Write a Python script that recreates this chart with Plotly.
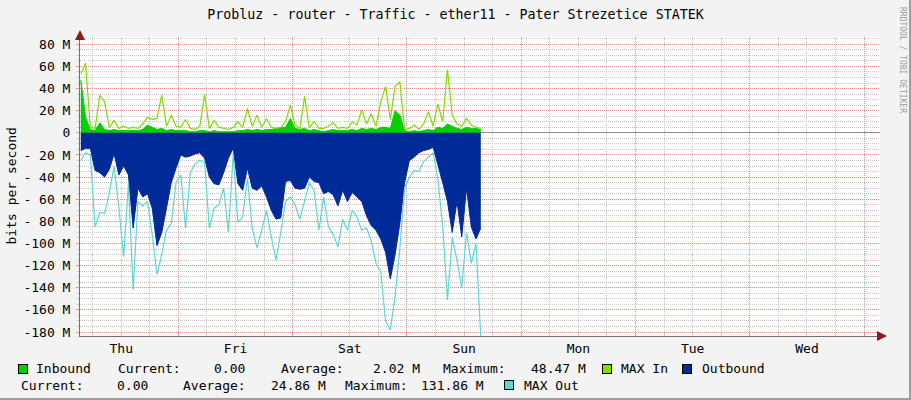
import plotly.graph_objects as go
import pandas as pd

# hourly samples, Thu 03:30 -> Sun 15:30 (values in Mbit/s)
times = pd.date_range("2024-01-04 03:30", periods=85, freq="h")

inbound = [48, 14, 3, 2, 9, 3, 2, 3, 2, 2,
           2, 2, 2, 3, 7, 5, 3, 4, 2, 3,
           2, 2, 2, 1, 1, 2, 2, 1, 2, 1,
           1, 1, 1, 2, 2, 3, 2, 3, 2, 3,
           3, 4, 5, 5, 13, 4, 3, 4, 2, 3,
           2, 1, 2, 3, 2, 2, 2, 3, 2, 4,
           3, 4, 3, 5, 5, 4, 20, 16, 2, 1,
           2, 1, 2, 3, 2, 5, 4, 8, 6, 4,
           3, 5, 4, 4, 3]

max_in = [53, 63, 5, 4, 34, 28, 5, 11, 4, 6,
          4, 5, 4, 8, 14, 12, 13, 34, 6, 16,
          6, 5, 12, 4, 3, 6, 35, 4, 11, 5,
          4, 3, 5, 10, 5, 22, 6, 16, 5, 13,
          5, 4, 5, 10, 25, 7, 4, 33, 5, 10,
          4, 4, 6, 9, 4, 5, 4, 10, 7, 21,
          8, 17, 6, 28, 42, 12, 42, 46, 3, 4,
          7, 3, 8, 19, 6, 26, 10, 57, 16, 8,
          6, 13, 7, 5, 4]

outbound = [-16, -14, -14, -34, -36, -40, -33, -19, -38, -30,
            -38, -86, -50, -58, -55, -68, -102, -90, -68, -45,
            -32, -20, -22, -21, -19, -18, -23, -40, -46, -47,
            -36, -23, -14, -46, -52, -32, -50, -52, -48, -58,
            -70, -78, -77, -44, -43, -50, -51, -50, -40, -44,
            -45, -55, -53, -56, -66, -52, -62, -54, -58, -62,
            -75, -84, -88, -96, -108, -132, -110, -82, -45, -25,
            -22, -18, -16, -15, -13, -28, -45, -62, -90, -62,
            -94, -50, -85, -96, -86]

max_out = [-25, -18, -20, -85, -72, -73, -54, -30, -68, -112,
           -46, -142, -62, -66, -62, -92, -128, -110, -88, -82,
           -45, -38, -86, -36, -28, -25, -27, -86, -68, -65,
           -50, -90, -20, -81, -76, -41, -86, -104, -88, -70,
           -94, -115, -90, -62, -58, -65, -78, -62, -45, -52,
           -88, -58, -85, -92, -103, -78, -88, -70, -76, -88,
           -86, -98, -118, -126, -170, -178, -148, -105, -50, -40,
           -34, -35, -26, -22, -18, -42, -85, -151, -95, -115,
           -140, -90, -118, -100, -185]

y_ticks = [80, 60, 40, 20, 0, -20, -40, -60, -80, -100, -120, -140, -160, -180]
y_labels = ["80 M", "60 M", "40 M", "20 M", "0", "- 20 M", "- 40 M", "- 60 M",
            "- 80 M", "-100 M", "-120 M", "-140 M", "-160 M", "-180 M"]

MONO = "DejaVu Sans Mono"
C_IN, C_MAXIN, C_OUT, C_MAXOUT = "#00CF00", "#80DD00", "#002A97", "#5FD5D5"
MGRID, GRID = "#E89393", "#C7C7C7"


def px_x(px):
    return (px - 80) / 800


def px_y(py):
    return (336 - py) / 299


fig = go.Figure()
fig.add_trace(go.Scatter(x=times, y=inbound, mode="lines", fill="tozeroy", fillcolor=C_IN,
                         line=dict(color=C_IN, width=1)))
fig.add_trace(go.Scatter(x=times, y=max_in, mode="lines",
                         line=dict(color=C_MAXIN, width=1.2)))
fig.add_trace(go.Scatter(x=times, y=outbound, mode="lines", fill="tozeroy", fillcolor=C_OUT,
                         line=dict(color=C_OUT, width=1)))
fig.add_trace(go.Scatter(x=times, y=max_out, mode="lines",
                         line=dict(color=C_MAXOUT, width=1.2)))

fig.update_layout(
    width=911, height=400,
    margin=dict(l=80, r=31, t=37, b=64),
    paper_bgcolor="#F3F3F3", plot_bgcolor="#FFFFFF",
    showlegend=False, hovermode=False,
    font=dict(family=MONO, size=13, color="#000000"),
    title=dict(text="Probluz - router - Traffic - ether11 - Pater Strezetice STATEK",
               x=0.5, xref="container", xanchor="center",
               y=1 - 14 / 400, yref="container", yanchor="middle",
               font=dict(family=MONO, size=13.3, color="#000000")),
)

fig.update_xaxes(
    type="date", range=["2024-01-04 03:20", "2024-01-11 03:20"],
    tick0="2024-01-04", dtick=86400000, tickformat="%a", ticklabelmode="period",
    showgrid=True, gridcolor=MGRID, griddash="1px,1px", gridwidth=1,
    ticks="inside", ticklen=3, tickcolor=MGRID,
    minor=dict(dtick=6 * 3600000, showgrid=True, gridcolor=GRID, griddash="1px,1px",
               ticks="inside", ticklen=2, tickcolor=GRID),
    showline=True, linecolor="#707070", linewidth=1, zeroline=False,
    tickfont=dict(family=MONO, size=13, color="#000000"),
)

fig.update_yaxes(
    range=[-183.6, 86.6], tickmode="array", tickvals=y_ticks, ticktext=y_labels,
    showgrid=True, gridcolor=MGRID, griddash="1px,1px", gridwidth=1,
    ticks="outside", ticklen=3, tickcolor=MGRID, ticklabelstandoff=3,
    minor=dict(tick0=0, dtick=5, showgrid=True, gridcolor=GRID, griddash="1px,1px",
               ticks="outside", ticklen=2, tickcolor=GRID),
    showline=True, linecolor="#707070", linewidth=1,
    zeroline=True, zerolinecolor="#909090", zerolinewidth=1,
    tickfont=dict(family=MONO, size=13, color="#000000"),
)

ann = []
# axis title
ann.append(dict(text="bits per second", x=px_x(11), y=0.5, xref="paper", yref="paper",
                xanchor="center", yanchor="middle",
                textangle=-90, showarrow=False, font=dict(family=MONO, size=13)))
# credit
ann.append(dict(text="RRDTOOL / TOBI OETIKER", x=px_x(902), y=px_y(60), xref="paper", yref="paper",
                xanchor="center", yanchor="middle",
                textangle=90, showarrow=False, font=dict(family=MONO, size=8, color="#A0A0A0")))
# axis arrows
ann.append(dict(text="", x=0, y=px_y(30), xref="paper", yref="paper", showarrow=True,
                ax=0, ay=7, arrowhead=2, arrowsize=2, arrowwidth=1, arrowcolor="#8B1A1A", standoff=0))
ann.append(dict(text="", x=px_x(887), y=0, xref="paper", yref="paper", showarrow=True,
                ax=-7, ay=0, arrowhead=2, arrowsize=2, arrowwidth=1, arrowcolor="#8B1A1A", standoff=0))

# legend
row1, row2 = 368.5, 385
legend_text = [
    ("Inbound", 33.7, row1), ("Current:", 116, row1), ("0.00", 212, row1),
    ("Average:", 279, row1), ("2.02 M", 371, row1), ("Maximum:", 441, row1),
    ("48.47 M", 529, row1), ("MAX In", 619, row1), ("Outbound", 700, row1),
    ("Current:", 18.6, row2), ("0.00", 114.5, row2), ("Average:", 181, row2),
    ("24.86 M", 268.6, row2), ("Maximum:", 343, row2), ("131.86 M", 418.6, row2),
    ("MAX Out", 521.5, row2),
]
for txt, px, py in legend_text:
    ann.append(dict(text=txt, x=px_x(px), y=px_y(py), xref="paper", yref="paper",
                    xanchor="left", yanchor="middle", showarrow=False,
                    font=dict(family=MONO, size=13, color="#000000")))

swatches = [(C_IN, 22.5, row1), (C_MAXIN, 607, row1), (C_OUT, 686.5, row1), (C_MAXOUT, 508.5, row2)]
for col, px, py in swatches:
    ann.append(dict(text=" ", x=px_x(px), y=px_y(py), xref="paper", yref="paper",
                    xanchor="center", yanchor="middle", showarrow=False,
                    width=8, height=8, bgcolor=col, bordercolor="#000000", borderwidth=1,
                    borderpad=0, font=dict(size=4)))

fig.update_layout(annotations=ann)

# image frame shading
fig.add_shape(type="line", xref="paper", yref="paper", x0=px_x(0), x1=px_x(911),
              y0=px_y(399), y1=px_y(399), line=dict(color="#9E9E9E", width=2))
fig.add_shape(type="line", xref="paper", yref="paper", x0=px_x(910), x1=px_x(910),
              y0=px_y(0), y1=px_y(400), line=dict(color="#9E9E9E", width=2))

fig.write_html("out.html", config={"displayModeBar": False},
               post_script="document.body.style.margin='0';document.body.style.background='#F3F3F3';")
